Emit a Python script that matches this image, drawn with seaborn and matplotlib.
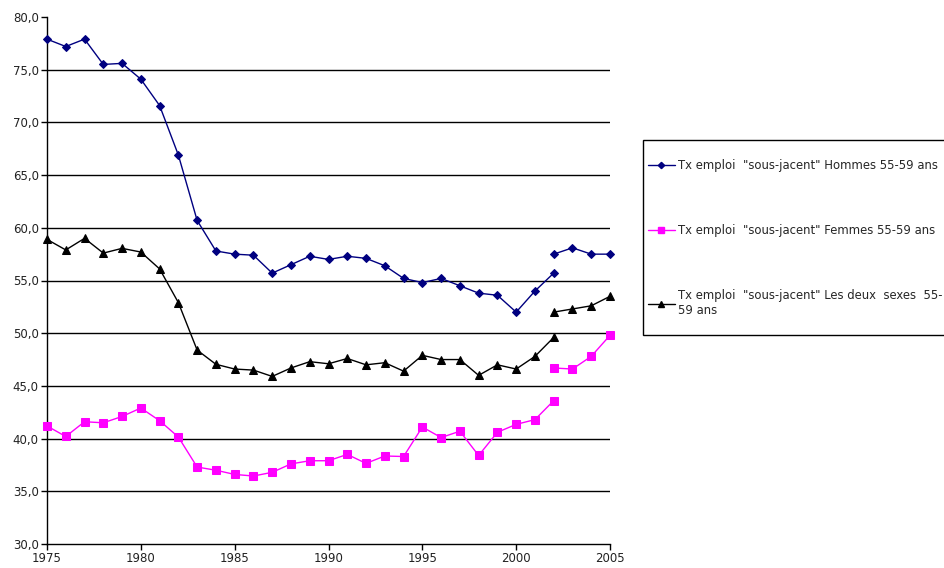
import numpy as np
import pandas as pd
import matplotlib
matplotlib.use("Agg")
import matplotlib.pyplot as plt
from matplotlib.ticker import FuncFormatter, MultipleLocator
from matplotlib.patches import Rectangle
import seaborn as sns

# Years: first series runs 1975-2002, second (new definition) 2002-2005
years_a = list(range(1975, 2003))
years_b = [2002, 2003, 2004, 2005]

hommes_a = [77.9, 77.2, 77.9, 75.5, 75.6, 74.1, 71.6, 66.9, 60.7, 57.8, 57.5, 57.4, 55.7, 56.5,
            57.3, 57.0, 57.3, 57.1, 56.4, 55.2, 54.8, 55.2, 54.5, 53.8, 53.6, 52.0, 54.0, 55.7]
femmes_a = [41.2, 40.2, 41.6, 41.5, 42.1, 42.9, 41.7, 40.15, 37.3, 37.0, 36.6, 36.45, 36.8, 37.6,
            37.9, 37.9, 38.5, 37.65, 38.35, 38.3, 41.1, 40.1, 40.7, 38.4, 40.6, 41.35, 41.8, 43.6]
deux_a = [58.9, 57.9, 59.0, 57.6, 58.05, 57.7, 56.1, 52.9, 48.4, 47.05, 46.6, 46.5, 45.9, 46.7,
          47.3, 47.1, 47.6, 47.0, 47.2, 46.4, 47.9, 47.5, 47.5, 46.0, 47.0, 46.6, 47.8, 49.6]

hommes_b = [57.5, 58.1, 57.5, 57.5]
femmes_b = [46.7, 46.6, 47.8, 49.8]
deux_b = [52.0, 52.3, 52.6, 53.5]

labels = ['Tx emploi  "sous-jacent" Hommes 55-59 ans',
          'Tx emploi  "sous-jacent" Femmes 55-59 ans',
          'Tx emploi  "sous-jacent" Les deux  sexes  55-\n59 ans']

sns.set_theme(style="white")
plt.rcParams['font.family'] = ['DejaVu Sans']

fig = plt.figure(figsize=(9.44, 5.68), dpi=100)
ax = fig.add_axes([47 / 944, 24 / 568, (610 - 47) / 944, (544 - 17) / 568])

styles = [
    (hommes_a, hommes_b, '#000080', 'D', 4.2),
    (femmes_a, femmes_b, '#FF00FF', 's', 5.2),
    (deux_a, deux_b, '#000000', '^', 5.2),
]

handles = []
for (va, vb, col, mk, ms), lab in zip(styles, labels):
    for yrs, vals in ((years_a, va), (years_b, vb)):
        df = pd.DataFrame({'annee': yrs, 'taux': vals})
        sns.lineplot(data=df, x='annee', y='taux', ax=ax, color=col, marker=mk,
                     markersize=ms, markeredgecolor=col, linewidth=1.0, legend=False,
                     clip_on=False, zorder=3)
    handles.append(plt.Line2D([], [], color=col, marker=mk, markersize=ms - 1,
                              markeredgecolor=col, linewidth=1.0, label=lab))

ax.set_xlim(1975, 2005)
ax.set_ylim(30, 80)
ax.xaxis.set_major_locator(MultipleLocator(5))
ax.yaxis.set_major_locator(MultipleLocator(5))
ax.yaxis.set_major_formatter(FuncFormatter(lambda v, p: f"{v:.1f}".replace('.', ',')))
ax.set_xlabel('')
ax.set_ylabel('')

ax.grid(axis='y', color='black', linewidth=1.0)
ax.set_axisbelow(True)
for gl, t in zip(ax.get_ygridlines(), ax.get_yticks()):
    if t >= 80 or t <= 30:
        gl.set_visible(False)

for s in ['top', 'right']:
    ax.spines[s].set_visible(False)
for s in ['left', 'bottom']:
    ax.spines[s].set_color('black')
    ax.spines[s].set_linewidth(1.0)

ax.tick_params(axis='both', direction='out', length=4, width=1, color='black',
               labelsize=8.5, labelcolor='#222222', left=True, bottom=True, pad=2)

# legend box, running off the right edge like the original
fig.patches.append(Rectangle((643 / 944, 1 - 335 / 568), 0.5, (335 - 140) / 568,
                             transform=fig.transFigure, facecolor='white',
                             edgecolor='black', linewidth=1.0, zorder=-1))
leg = ax.legend(handles=handles, loc='upper left', bbox_to_anchor=(648 / 944, 1 - 159 / 568),
                bbox_transform=fig.transFigure, frameon=False, fontsize=8.4, labelspacing=4.45,
                handlelength=2.3, handletextpad=0.25, borderpad=0.0, borderaxespad=0)

fig.savefig('out.png', dpi=100)
